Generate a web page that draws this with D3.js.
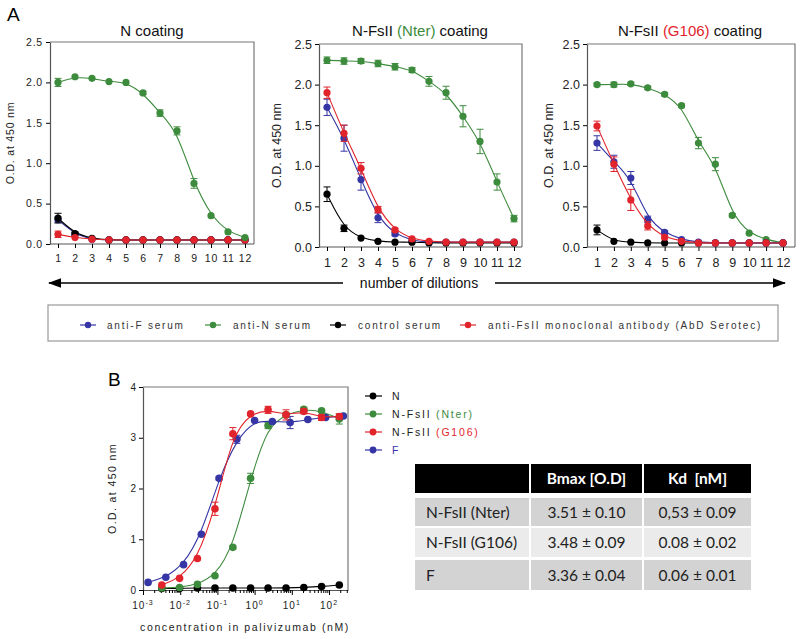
<!DOCTYPE html>
<html><head><meta charset="utf-8">
<script src="https://cdn.jsdelivr.net/npm/d3@7"></script>
<style>
body{margin:0;background:#fff;}
svg{display:block;font-family:"Liberation Sans",Arial,sans-serif;}
</style></head>
<body>
<svg id="c" width="800" height="639"></svg>
<script>
// ---------- DATA ----------
const dilutions = [1,2,3,4,5,6,7,8,9,10,11,12];
const yTicksA = [0,0.5,1.0,1.5,2.0,2.5];

// Panel A1: N coating
const a1Blue  = [0.30,0.12,0.06,0.05,0.05,0.05,0.05,0.05,0.05,0.05,0.05,0.05];
const a1BlueErr = [0.03,0.02,0,0,0,0,0,0,0,0,0,0];
const a1Green = [2.00,2.07,2.05,2.01,2.00,1.87,1.62,1.40,0.75,0.35,0.15,0.08];
const a1GreenErr = [0.05,0.01,0.01,0.01,0.01,0.02,0.04,0.05,0.06,0.01,0.01,0.01];
const a1Black = [0.32,0.13,0.07,0.05,0.05,0.05,0.05,0.05,0.05,0.05,0.05,0.05];
const a1BlackErr = [0.06,0.02,0.01,0,0,0,0,0,0,0,0,0];
const a1Red   = [0.12,0.08,0.06,0.05,0.05,0.05,0.05,0.05,0.05,0.05,0.05,0.05];
const a1RedErr = [0.04,0.01,0,0,0,0,0,0,0,0,0,0];

// Panel A2: N-FsII (Nter) coating
const a2Blue  = [1.72,1.34,0.83,0.36,0.16,0.08,0.06,0.06,0.06,0.06,0.06,0.06];
const a2BlueErr = [0.10,0.16,0.13,0.06,0.02,0.01,0,0,0,0,0,0];
const a2Green = [2.30,2.29,2.29,2.26,2.22,2.18,2.04,1.90,1.61,1.30,0.80,0.35];
const a2GreenErr = [0.04,0.04,0.03,0.04,0.04,0.03,0.06,0.08,0.13,0.15,0.10,0.04];
const a2Black = [0.65,0.23,0.11,0.07,0.06,0.06,0.05,0.05,0.05,0.05,0.05,0.05];
const a2BlackErr = [0.09,0.04,0.01,0,0,0,0,0,0,0,0,0];
const a2Red   = [1.90,1.40,0.97,0.46,0.21,0.10,0.07,0.06,0.06,0.06,0.06,0.06];
const a2RedErr = [0.07,0.10,0.07,0.04,0.02,0.01,0,0,0,0,0,0];

// Panel A3: N-FsII (G106) coating
const a3Blue  = [1.28,1.05,0.85,0.34,0.18,0.09,0.06,0.05,0.05,0.05,0.05,0.05];
const a3BlueErr = [0.09,0.08,0.08,0.04,0.02,0.01,0,0,0,0,0,0];
const a3Green = [2.00,2.00,2.01,1.96,1.88,1.74,1.28,1.02,0.39,0.17,0.09,0.05];
const a3GreenErr = [0.02,0.03,0.02,0.02,0.02,0.02,0.07,0.08,0.02,0.01,0.01,0.01];
const a3Black = [0.21,0.07,0.06,0.05,0.05,0.05,0.05,0.05,0.05,0.05,0.05,0.05];
const a3BlackErr = [0.06,0.01,0,0,0,0,0,0,0,0,0,0];
const a3Red   = [1.49,1.02,0.58,0.26,0.12,0.07,0.05,0.05,0.05,0.05,0.05,0.05];
const a3RedErr = [0.06,0.09,0.13,0.05,0.02,0,0,0,0,0,0,0];

const legendA = ["anti-F serum","anti-N serum","control serum","anti-FsII monoclonal antibody (AbD Serotec)"];

// Panel B
const bBlueConc = [0.00137,0.0041,0.0123,0.037,0.111,0.333,1.0,3.0,9.0,27,81,243];
const bBlue     = [0.15,0.25,0.50,1.10,2.20,2.97,3.34,3.32,3.30,3.36,3.40,3.43];
const bBlueErr  = [0,0,0,0,0.03,0.08,0.02,0,0.12,0,0.02,0];
const bConc     = [0.0032,0.0096,0.029,0.086,0.26,0.78,2.3,7.0,21,63,189];
const bRed      = [0.10,0.23,0.62,1.60,3.08,3.47,3.55,3.45,3.52,3.40,3.42];
const bRedErr   = [0,0,0,0.13,0.12,0,0.07,0.10,0.05,0.06,0.05];
const bGreen    = [0.04,0.05,0.11,0.28,0.84,2.20,3.24,3.45,3.56,3.53,3.37];
const bGreenErr = [0,0,0,0,0.03,0.10,0.06,0.05,0.04,0.03,0.10];
const bBlack    = [0.03,0.03,0.04,0.04,0.04,0.04,0.04,0.04,0.05,0.07,0.10];
const bYTicks = [0,1,2,3,4];
const bXDecades = [-3,-2,-1,0,1,2];

const tableHeader = ["", "Bmax [O.D]", "Kd  [nM]"];
const tableRows = [
  ["N-FsII (Nter)", "3.51 \u00b1 0.10", "0,53 \u00b1 0.09"],
  ["N-FsII (G106)", "3.48 \u00b1 0.09", "0.08 \u00b1 0.02"],
  ["F",             "3.36 \u00b1 0.04", "0.06 \u00b1 0.01"]
];

// ---------- STYLE ----------
const COL = {blue:"#3535a5", green:"#3d8b3d", black:"#000000", red:"#e1232b"};
const svg = d3.select("#c");

// ---------- PANEL A ----------
function panelA(cfg){
  const g = svg.append("g");
  const x = d3.scaleLinear().domain([1,12]).range([cfg.x1, cfg.x12]);
  const y = d3.scaleLinear().domain([0,2.5]).range([cfg.bottom, cfg.top]);
  g.append("path").attr("d",`M${cfg.left},${cfg.top}H${cfg.right}V${cfg.bottom}`)
    .attr("fill","none").attr("stroke","#777").attr("stroke-width",1.2);
  const ya = g.append("g").attr("transform",`translate(${cfg.left},0)`)
    .call(d3.axisLeft(y).tickValues(yTicksA).tickFormat(d3.format(".1f")).tickSize(4).tickSizeOuter(0));
  ya.select(".domain").attr("stroke","#555").attr("stroke-width",1.2);
  ya.selectAll("text").attr("font-size",cfg.fs).attr("fill","#222").attr("font-family","Liberation Sans, Arial").style("letter-spacing",cfg.ls);
  const xa = g.append("g").attr("transform",`translate(0,${cfg.bottom})`)
    .call(d3.axisBottom(x).tickValues(dilutions).tickFormat(d3.format("d")).tickSize(4).tickSizeOuter(0));
  xa.select(".domain").attr("d",`M${cfg.left},0H${cfg.right}`).attr("stroke","#555").attr("stroke-width",1.2);
  xa.selectAll("text").attr("font-size",cfg.fs).attr("fill","#222").attr("dy","1.0em").style("letter-spacing",cfg.ls);
  g.append("text").attr("transform",`translate(${cfg.ylab},${(cfg.top+cfg.bottom)/2}) rotate(-90)`)
    .attr("text-anchor","middle").attr("font-size",cfg.fs).attr("fill","#222").style("letter-spacing",cfg.ls)
    .text("O.D. at 450 nm");
  const t = g.append("text").attr("x",cfg.tx).attr("y",36).attr("text-anchor","middle")
    .attr("font-size",15).attr("fill","#111");
  cfg.title.forEach(p=>t.append("tspan").attr("fill",p[1]).text(p[0]));
  const line = d3.line().x((d,i)=>x(dilutions[i])).y(d=>y(d)).curve(d3.curveBasis);
  cfg.series.forEach(s=>{
    g.append("path").datum(s.v).attr("d",line).attr("fill","none").attr("stroke",s.c).attr("stroke-width",1.1);
    s.v.forEach((v,i)=>{
      const e = s.e[i];
      if(e>0.015){
        const cx = x(dilutions[i]);
        g.append("path").attr("d",`M${cx},${y(v-e)}V${y(v+e)}M${cx-3.5},${y(v-e)}H${cx+3.5}M${cx-3.5},${y(v+e)}H${cx+3.5}`)
          .attr("stroke",s.c).attr("stroke-width",1).attr("fill","none");
      }
    });
    g.selectAll(null).data(s.v).enter().append("circle")
      .attr("cx",(d,i)=>x(dilutions[i])).attr("cy",d=>y(d)).attr("r",3.6).attr("fill",s.c);
  });
}

panelA({left:50,right:254,top:42,bottom:244,x1:58,x12:245,fs:10.5,ls:"0.8px",ylab:14,tx:152,
  title:[["N coating","#111"]],
  series:[{v:a1Blue,e:a1BlueErr,c:COL.blue},{v:a1Black,e:a1BlackErr,c:COL.black},
          {v:a1Red,e:a1RedErr,c:COL.red},{v:a1Green,e:a1GreenErr,c:COL.green}]});
panelA({left:319,right:522,top:44,bottom:247,x1:327,x12:514,fs:12.5,ls:"0px",ylab:281,tx:420,
  title:[["N-FsII ","#111"],["(Nter)",COL.green],[" coating","#111"]],
  series:[{v:a2Green,e:a2GreenErr,c:COL.green},{v:a2Blue,e:a2BlueErr,c:COL.blue},
          {v:a2Black,e:a2BlackErr,c:COL.black},{v:a2Red,e:a2RedErr,c:COL.red}]});
panelA({left:587,right:795,top:44,bottom:247,x1:597,x12:783,fs:12.5,ls:"0px",ylab:553,tx:690,
  title:[["N-FsII ","#111"],["(G106)",COL.red],[" coating","#111"]],
  series:[{v:a3Green,e:a3GreenErr,c:COL.green},{v:a3Black,e:a3BlackErr,c:COL.black},
          {v:a3Blue,e:a3BlueErr,c:COL.blue},{v:a3Red,e:a3RedErr,c:COL.red}]});

svg.append("text").attr("x",7).attr("y",21).attr("font-size",19).text("A");
svg.append("text").attr("x",108).attr("y",386).attr("font-size",19).text("B");

svg.append("defs").html(`<marker id="ah" viewBox="0 0 10 10" refX="9" refY="5" markerWidth="9" markerHeight="9" orient="auto-start-reverse"><path d="M0,1.5L10,5L0,8.5z" fill="#000"/></marker>`);
svg.append("line").attr("x1",49).attr("x2",343).attr("y1",283).attr("y2",283).attr("stroke","#000").attr("stroke-width",1.5).attr("marker-start","url(#ah)");
svg.append("line").attr("x1",495).attr("x2",785).attr("y1",283).attr("y2",283).attr("stroke","#000").attr("stroke-width",1.5).attr("marker-end","url(#ah)");
svg.append("text").attr("x",419).attr("y",288).attr("text-anchor","middle").attr("font-size",14).attr("fill","#111").text("number of dilutions");

svg.append("rect").attr("x",48).attr("y",305).attr("width",730).attr("height",36)
  .attr("fill","none").attr("stroke","#999").attr("stroke-width",1.2);
const legX = [[88,107],[213,233],[338,358],[468,488]];
const legC = [COL.blue,COL.green,COL.black,COL.red];
legendA.forEach((t,i)=>{
  const [mx,tx] = legX[i];
  svg.append("line").attr("x1",mx-8).attr("x2",mx+8).attr("y1",325).attr("y2",325).attr("stroke",legC[i]).attr("stroke-width",1.2);
  svg.append("circle").attr("cx",mx).attr("cy",325).attr("r",3.2).attr("fill",legC[i]);
  svg.append("text").attr("x",tx).attr("y",329).attr("font-size",10).attr("fill","#333").style("letter-spacing","1.8px").text(t);
});

// ---------- PANEL B ----------
(function(){
  const L=143,R=348,T=387,B=590;
  const g = svg.append("g");
  const x = d3.scaleLog().domain([1e-3, Math.pow(10,2.51)]).range([L,R]);
  const y = d3.scaleLinear().domain([0,4]).range([B,T]);
  g.append("path").attr("d",`M${L},${T}H${R}V${B}`).attr("fill","none").attr("stroke","#777").attr("stroke-width",1.2);
  const ya = g.append("g").attr("transform",`translate(${L},0)`)
    .call(d3.axisLeft(y).tickValues(bYTicks).tickFormat(d3.format("d")).tickSize(4).tickSizeOuter(0));
  ya.select(".domain").attr("stroke","#555").attr("stroke-width",1.2);
  ya.selectAll("text").attr("font-size",10).attr("fill","#222");
  const minors=[];
  bXDecades.forEach(d=>{for(let k=1;k<10;k++){const v=k*Math.pow(10,d); if(v<=x.domain()[1]) minors.push(v);}});
  const xa = g.append("g").attr("transform",`translate(0,${B})`)
    .call(d3.axisBottom(x).tickValues(minors).tickFormat("").tickSize(3).tickSizeOuter(0));
  xa.select(".domain").attr("stroke","#555").attr("stroke-width",1.2);
  xa.selectAll(".tick line").attr("y2",(d)=> Math.abs(Math.log10(d)-Math.round(Math.log10(d)))<1e-9 ? 5 : 3);
  bXDecades.forEach(d=>{
    const t = g.append("text").attr("x",x(Math.pow(10,d))).attr("y",B+19).attr("text-anchor","middle")
      .attr("font-size",10).attr("fill","#222").style("letter-spacing","1px");
    t.append("tspan").text("10");
    t.append("tspan").attr("dy",-4).attr("font-size",7).text(String(d));
  });
  g.append("text").attr("x",245).attr("y",631).attr("text-anchor","middle").attr("font-size",10.5).attr("fill","#222")
    .style("letter-spacing","1.6px").text("concentration in palivizumab (nM)");
  g.append("text").attr("transform",`translate(116,${(T+B)/2}) rotate(-90)`).attr("text-anchor","middle")
    .attr("font-size",10.5).attr("fill","#222").style("letter-spacing","1.4px").text("O.D. at 450 nm");

  const series = [
    {cx:bConc,v:bBlack,e:bBlack.map(()=>0),c:COL.black},
    {cx:bConc,v:bGreen,e:bGreenErr,c:COL.green},
    {cx:bBlueConc,v:bBlue,e:bBlueErr,c:COL.blue},
    {cx:bConc,v:bRed,e:bRedErr,c:COL.red}
  ];
  series.forEach(s=>{
    const line = d3.line().x((d,i)=>x(s.cx[i])).y(d=>y(d)).curve(d3.curveBasis);
    g.append("path").datum(s.v).attr("d",line).attr("fill","none").attr("stroke",s.c).attr("stroke-width",1.1);
    s.v.forEach((v,i)=>{
      const e=s.e[i];
      if(e>0.02){
        const cx=x(s.cx[i]);
        g.append("path").attr("d",`M${cx},${y(v-e)}V${y(v+e)}M${cx-3.5},${y(v-e)}H${cx+3.5}M${cx-3.5},${y(v+e)}H${cx+3.5}`)
          .attr("stroke",s.c).attr("stroke-width",1).attr("fill","none");
      }
    });
    g.selectAll(null).data(s.v).enter().append("circle")
      .attr("cx",(d,i)=>x(s.cx[i])).attr("cy",d=>y(d)).attr("r",3.8).attr("fill",s.c);
  });

  const lb = [
    {parts:[["N","#222"]],c:COL.black},
    {parts:[["N-FsII ","#222"],["(Nter)",COL.green]],c:COL.green},
    {parts:[["N-FsII ","#222"],["(G106)",COL.red]],c:COL.red},
    {parts:[["F",COL.blue]],c:COL.blue}
  ];
  const ly=[396,414,432,450];
  lb.forEach((it,i)=>{
    svg.append("line").attr("x1",365).attr("x2",382).attr("y1",ly[i]).attr("y2",ly[i]).attr("stroke",it.c).attr("stroke-width",1.2);
    svg.append("circle").attr("cx",373).attr("cy",ly[i]).attr("r",3.4).attr("fill",it.c);
    const t = svg.append("text").attr("x",392).attr("y",ly[i]+4).attr("font-size",10.5).style("letter-spacing","1.8px");
    it.parts.forEach(p=>t.append("tspan").attr("fill",p[1]).text(p[0]));
  });
})();

// ---------- TABLE ----------
(function(){
  const colX=[415,531,644], colW=[114,111,107];
  const rowY=[464,498,528,560], rowH=[29,28,29,30];
  const bg=["#000","#d3d3d3","#ebebeb","#d3d3d3"];
  const rows=[tableHeader].concat(tableRows);
  rows.forEach((r,ri)=>{
    r.forEach((cell,ci)=>{
      svg.append("rect").attr("x",colX[ci]).attr("y",rowY[ri]).attr("width",colW[ci]).attr("height",rowH[ri]).attr("fill",bg[ri]);
      const t = svg.append("text").attr("y",rowY[ri]+rowH[ri]/2+5.5).attr("font-family","Lato, 'Open Sans', sans-serif")
        .attr("font-size",15.5).attr("fill",ri===0?"#fff":"#222").attr("font-weight",ri===0?"bold":"normal")
        .style("white-space","pre").text(cell);
      if(ci===0){ t.attr("x",colX[ci]+11); }
      else { t.attr("x",colX[ci]+colW[ci]/2).attr("text-anchor","middle"); }
    });
  });
})();
</script>
</body></html>
